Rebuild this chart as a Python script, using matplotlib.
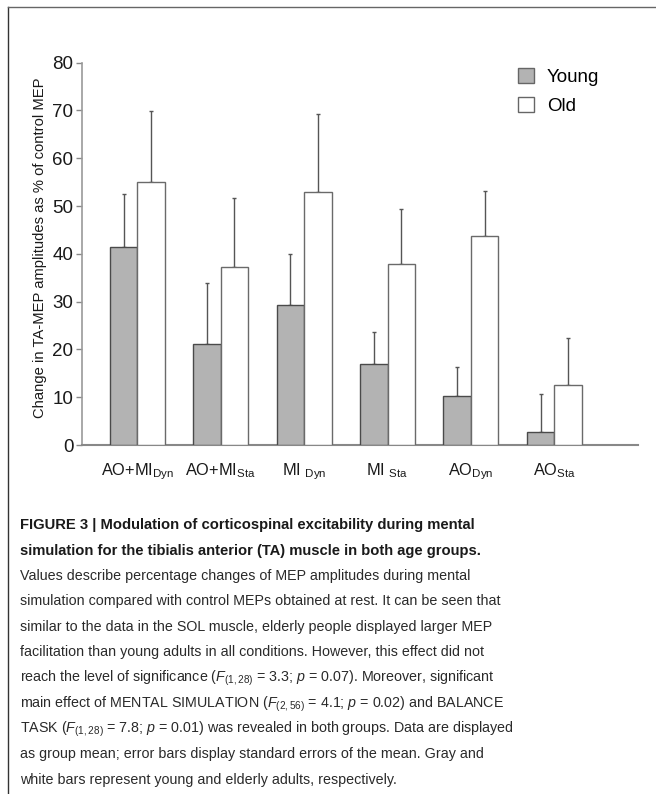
import matplotlib
matplotlib.use("Agg")
import matplotlib.pyplot as plt
import numpy as np
from matplotlib.lines import Line2D

# ---- data ----
categories = [r"AO+MI$_{\mathregular{Dyn}}$", r"AO+MI$_{\mathregular{Sta}}$",
              r"MI $_{\mathregular{Dyn}}$", r"MI $_{\mathregular{Sta}}$",
              r"AO$_{\mathregular{Dyn}}$", r"AO$_{\mathregular{Sta}}$"]
young_mean = [41.5, 21.2, 29.4, 17.0, 10.2, 2.7]
young_sem = [11.1, 12.8, 10.5, 6.7, 6.1, 8.0]
old_mean = [55.0, 37.2, 53.0, 37.8, 43.7, 12.5]
old_sem = [14.9, 14.4, 16.2, 11.6, 9.5, 9.8]
series_names = ["Young", "Old"]
yticks = [0, 10, 20, 30, 40, 50, 60, 70, 80]

title_lines = [
    "FIGURE 3 | Modulation of corticospinal excitability during mental",
    "simulation for the tibialis anterior (TA) muscle in both age groups.",
]
body_lines = [
    "Values describe percentage changes of MEP amplitudes during mental",
    "simulation compared with control MEPs obtained at rest. It can be seen that",
    "similar to the data in the SOL muscle, elderly people displayed larger MEP",
    "facilitation than young adults in all conditions. However, this effect did not",
    r"reach the level of significance ($\mathit{F}_{\mathrm{(1,28)}}$ = 3.3; $\mathit{p}$ = 0.07). Moreover, significant",
    r"main effect of MENTAL SIMULATION ($\mathit{F}_{\mathrm{(2,56)}}$ = 4.1; $\mathit{p}$ = 0.02) and BALANCE",
    r"TASK ($\mathit{F}_{\mathrm{(1,28)}}$ = 7.8; $\mathit{p}$ = 0.01) was revealed in both groups. Data are displayed",
    "as group mean; error bars display standard errors of the mean. Gray and",
    "white bars represent young and elderly adults, respectively.",
]

plt.rcParams['font.family'] = ['Liberation Sans', 'DejaVu Sans']
plt.rcParams['mathtext.fontset'] = 'custom'
plt.rcParams['mathtext.rm'] = 'Liberation Sans'
plt.rcParams['mathtext.it'] = 'Liberation Sans:italic'
plt.rcParams['mathtext.bf'] = 'Liberation Sans:bold'

W, H = 656, 794
fig = plt.figure(figsize=(W / 100, H / 100), dpi=100)

def fx(px):
    return px / W

def fy(py):
    return 1 - py / H

ax = fig.add_axes([fx(81.7), fy(445), (637.7 - 81.7) / W, (445 - 62.7) / H])

x = np.arange(len(categories))
bw = 0.33
young_c = "#b3b3b3"
ax.bar(x - bw / 2, young_mean, bw, color=young_c, edgecolor="#4a4a4a", linewidth=1.0,
       label=series_names[0], zorder=3)
ax.bar(x + bw / 2, old_mean, bw, color="white", edgecolor="#6a6a6a", linewidth=1.0,
       label=series_names[1], zorder=3)
ax.errorbar(x - bw / 2, young_mean, yerr=[np.zeros(len(x)), young_sem], fmt='none',
            ecolor="#555555", elinewidth=1.0, capsize=1.2, capthick=1.0, zorder=2)
ax.errorbar(x + bw / 2, old_mean, yerr=[np.zeros(len(x)), old_sem], fmt='none',
            ecolor="#555555", elinewidth=1.0, capsize=1.2, capthick=1.0, zorder=2)

ax.set_xlim(-0.667, 6.0)
ax.set_ylim(0, 80)
ax.set_yticks(yticks)
ax.set_yticklabels([str(t) for t in yticks], fontsize=13.5, color="#1a1a1a")
ax.set_xticks(x)
ax.set_xticklabels(categories, fontsize=11.8, color="#1a1a1a")
ax.tick_params(axis='x', length=0, pad=12)
ax.tick_params(axis='y', direction='out', length=4, width=1, color="#888888", pad=2)
for s in ['top', 'right']:
    ax.spines[s].set_visible(False)
ax.spines['left'].set_color("#999999")
ax.spines['bottom'].set_color("#888888")
ax.spines['left'].set_linewidth(1.2)
ax.spines['bottom'].set_linewidth(1.5)

fig.text(fx(40), fy(248), "Change in TA-MEP amplitudes as % of control MEP",
         rotation=90, ha='center', va='center', fontsize=10.6, color="#1a1a1a")

leg = ax.legend(loc='upper left', bbox_to_anchor=(fx(517.7), fy(68)),
                bbox_transform=fig.transFigure, frameon=False, fontsize=13.5,
                borderpad=0, borderaxespad=0, handlelength=0.85, handleheight=0.85,
                handletextpad=0.7, labelspacing=0.58)
for h in leg.legend_handles:
    h.set_edgecolor("#666666")

# frame lines
fig.add_artist(Line2D([fx(8), fx(8)], [fy(7), 0], color="#333333", lw=1.0,
                      transform=fig.transFigure))
fig.add_artist(Line2D([fx(8), 1], [fy(7), fy(7)], color="#666666", lw=1.0,
                      transform=fig.transFigure))

# caption
fig.canvas.draw()
renderer = fig.canvas.get_renderer()

def fit_lines(lines, targets, baselines, weight, color, base=12):
    arts = []
    for ln, yb in zip(lines, baselines):
        t = fig.text(fx(20), fy(yb), ln, fontsize=base, fontweight=weight,
                     color=color, ha='left', va='baseline')
        arts.append(t)
    fig.canvas.draw()
    ratios = []
    for t, tgt in zip(arts, targets):
        bb = t.get_window_extent(renderer)
        ratios.append((tgt - 20) / bb.width)
    r = float(np.median(ratios))
    for t in arts:
        t.set_fontsize(base * r)
    return arts

title_targets = [474, 480]
body_targets = [469, 502, 490, 483, 494, 503, 515, 482, 393]
title_base = [529.3, 555.0]
body_base = [580 + 25.45 * i for i in range(len(body_lines))]
fit_lines(title_lines, title_targets, title_base, 'bold', "#1a1a1a")
fit_lines(body_lines, body_targets, body_base, 'normal', "#2a2a2a")

fig.savefig("out.png", dpi=100)
